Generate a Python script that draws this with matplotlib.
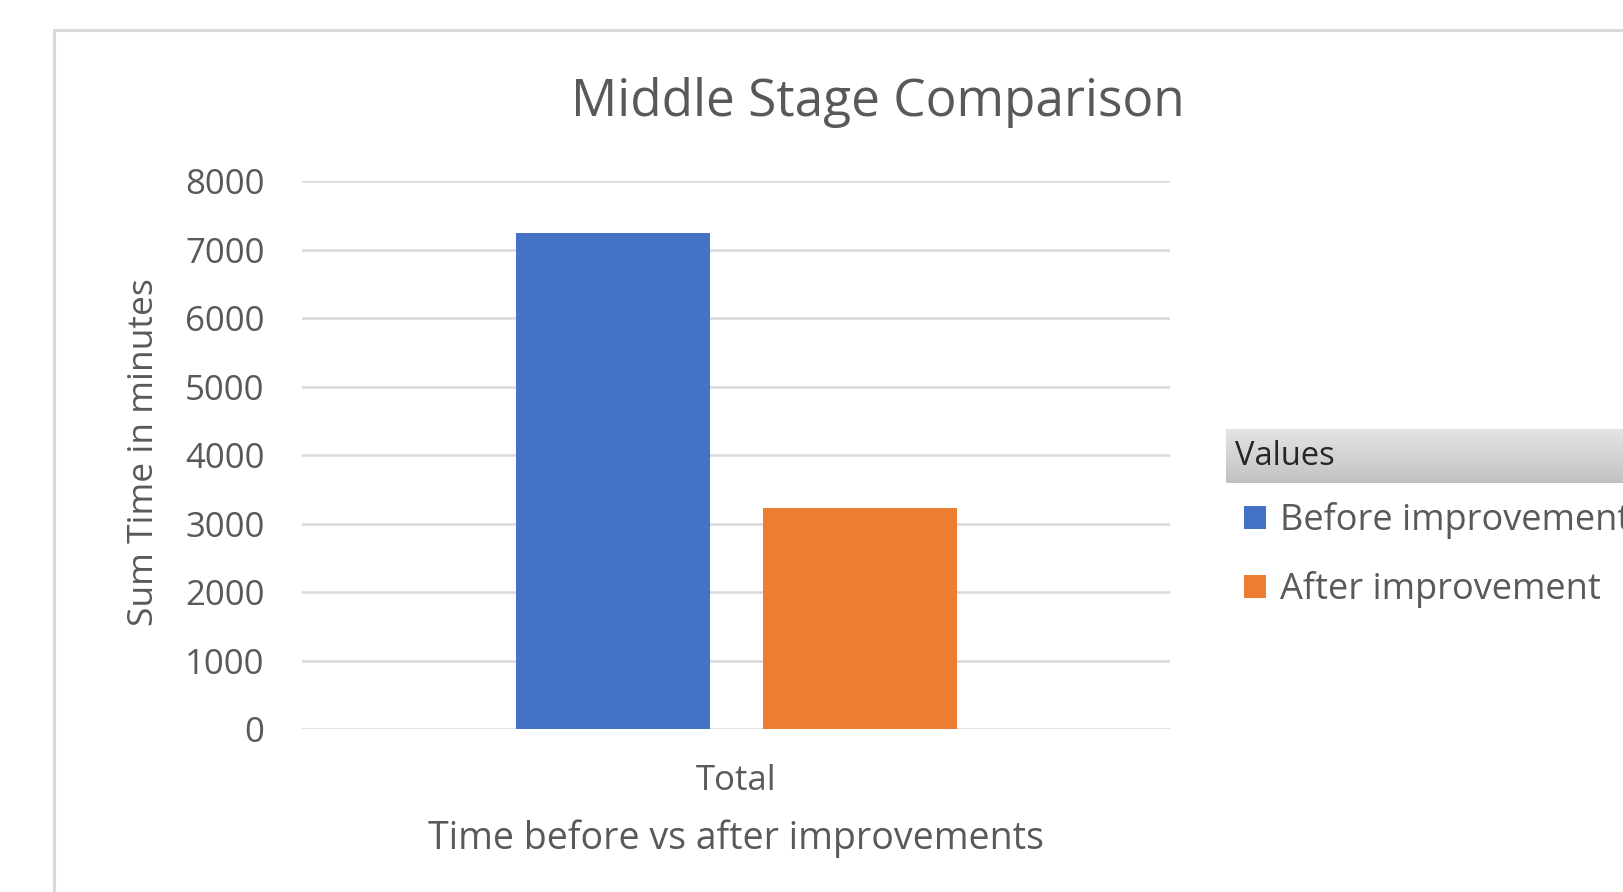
import numpy as np
import matplotlib
matplotlib.use('Agg')
import matplotlib.pyplot as plt
from matplotlib.patches import Rectangle, Patch

plt.rcParams['font.family'] = ['Open Sans', 'DejaVu Sans']

categories = ['Total']
series_names = ['Before improvement', 'After improvement']
series_values = [[7250], [3225]]
series_colors = ['#4472C4', '#ED7D31']
yticks = [0, 1000, 2000, 3000, 4000, 5000, 6000, 7000, 8000]

txt = '#595959'
grid = '#d9d9d9'

fig = plt.figure(figsize=(16.24, 8.92), dpi=100, facecolor='white')

# outer chart frame (runs off the right and bottom edges)
fig.patches.append(Rectangle((0.0335, -0.1), 1.2, 1.0665, transform=fig.transFigure,
                             fill=False, edgecolor=grid, linewidth=2.2, zorder=0))

ax = fig.add_axes([0.186, 0.1824, 0.5345, 0.6143])
x = np.arange(len(categories))
width = 0.2235
offsets = [-0.1423, 0.1423]
for vals, off, col, name in zip(series_values, offsets, series_colors, series_names):
    ax.bar(x + off, vals, width, color=col, label=name, zorder=3)

ax.set_xlim(-0.5, 0.5)
ax.set_ylim(0, 8000)
ax.set_yticks(yticks)
ax.set_yticklabels([str(v) for v in yticks])
ax.set_xticks(x)
ax.set_xticklabels(categories)
ax.yaxis.grid(True, color=grid, linewidth=1.8, zorder=0)
ax.set_axisbelow(True)
for s in ax.spines.values():
    s.set_visible(False)
ax.tick_params(axis='y', length=0, pad=27, labelsize=25, labelcolor=txt)
ax.tick_params(axis='x', length=0, pad=25, labelsize=25, labelcolor=txt)

ax.set_ylabel('Sum Time in minutes', fontsize=25.5, color=txt)
ax.yaxis.set_label_coords(-0.182, 0.506)
ax.set_xlabel('Time before vs after improvements', fontsize=27, color=txt)
ax.xaxis.set_label_coords(0.5, -0.2)
ax.xaxis.label.set_va('center')
ax.yaxis.label.set_va('center')
fig.text(0.5407, 0.885, 'Middle Stage Comparison', fontsize=37, color=txt,
         ha='center', va='center')

# legend header with gray gradient
hdr = fig.add_axes([1226 / 1624, 1 - 483 / 892, 0.3, 54 / 892])
grad = np.linspace(0, 1, 100).reshape(-1, 1)
hdr.imshow(grad, aspect='auto', cmap=matplotlib.colors.LinearSegmentedColormap.from_list(
    'g', ['#e4e4e4', '#c2c2c2']), extent=[0, 1, 0, 1])
hdr.set_axis_off()
fig.text(1235 / 1624, 1 - 456 / 892, 'Values', fontsize=23.5, color='#262626',
         ha='left', va='center')

handles = [Patch(facecolor=c, label=n) for c, n in zip(series_colors, series_names)]
fig.legend(handles=handles, loc='upper left', bbox_to_anchor=(1244 / 1624, 1 - 502 / 892),
           frameon=False, fontsize=26, labelcolor=txt, handlelength=0.6, handleheight=0.6,
           handletextpad=0.4, labelspacing=0.88, borderpad=0, borderaxespad=0)

fig.savefig('out.png', dpi=100, facecolor='white')
